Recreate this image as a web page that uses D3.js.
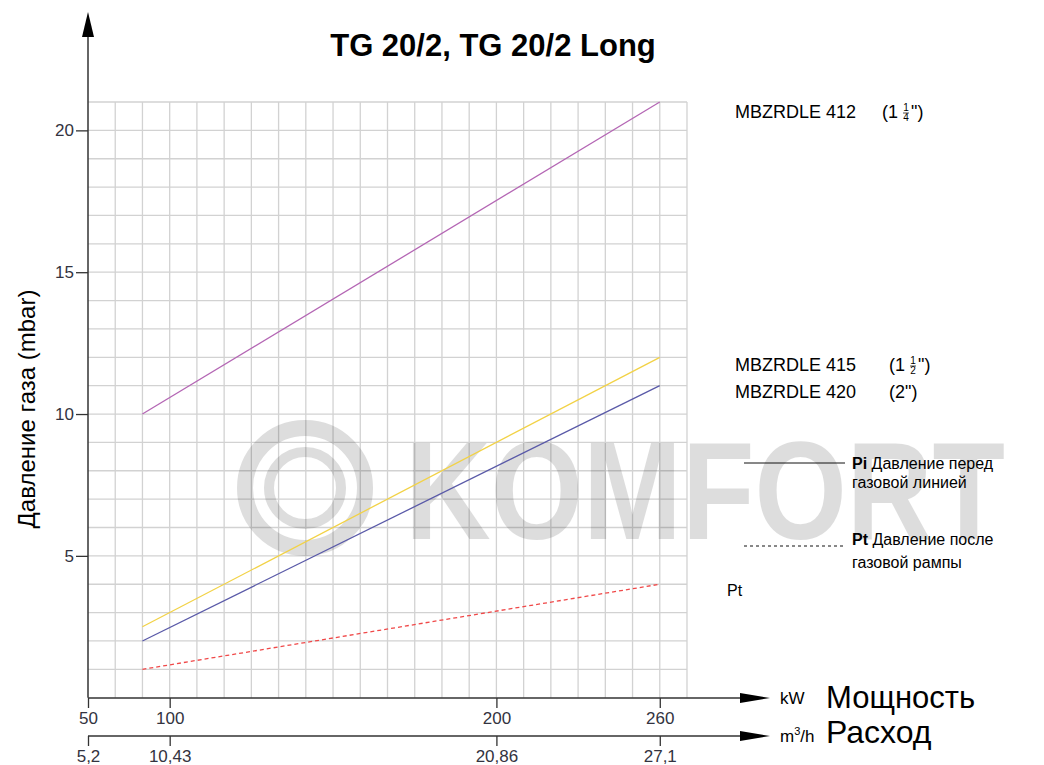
<!DOCTYPE html>
<html>
  <head>
    <meta http-equiv="content-type" content="text/html; charset=utf-8" />
    <title>TG 20/2</title>
    <script type="text/javascript" src="https://cdn.jsdelivr.net/npm/d3@7/dist/d3.min.js"></script>
    <style type="text/css">
      body { margin: 0; background: #fff; }
      text { font-family: "Liberation Sans", Arial, sans-serif; }
    </style>
  </head>
  <body>
    <script type="text/javascript">
// values
var powerKW = [83.3, 260];
var mbzrdle412 = [10, 21];
var mbzrdle415 = [2.5, 12];
var mbzrdle420 = [2, 11];
var ptLine = [1, 4];

var kwTicks = [50, 100, 200, 260];
var flowLabels = ["5,2", "10,43", "20,86", "27,1"];
var pressureTicks = [5, 10, 15, 20];

var w = 1044, h = 765;
var svg = d3.select("body").append("svg").attr("width", w).attr("height", h);

// grid columns (22) and the non linear kW axis laid over them
var gridLeft = 88, gridRight = 687, gridCols = 22;
var colScale = d3.scaleLinear().domain([0, gridCols]).range([gridLeft, gridRight]);
var kwToCol = d3.scaleLinear().domain(kwTicks).range([0, 3, 15, 21]);
var x = function(d) { return colScale(kwToCol(d)); };
var y = d3.scaleLinear().domain([0, 21]).range([697.7, 102]);

// grid
var grid = svg.append("g").attr("stroke", "#d2d2d2").attr("stroke-width", 1.3);
grid.selectAll("line.v").data(d3.range(1, gridCols + 1)).enter().append("line")
  .attr("x1", function(d) { return colScale(d); })
  .attr("x2", function(d) { return colScale(d); })
  .attr("y1", y(0)).attr("y2", y(21));
grid.selectAll("line.h").data(d3.range(1, 22)).enter().append("line")
  .attr("x1", gridLeft).attr("x2", gridRight)
  .attr("y1", function(d) { return y(d); })
  .attr("y2", function(d) { return y(d); });

// watermark
var wm = svg.append("g").attr("opacity", 0.13);
wm.append("circle").attr("cx", 305).attr("cy", 488).attr("r", 60)
  .attr("fill", "none").attr("stroke", "#000").attr("stroke-width", 16);
wm.append("circle").attr("cx", 305).attr("cy", 488).attr("r", 36)
  .attr("fill", "none").attr("stroke", "#000").attr("stroke-width", 10);
wm.append("text").attr("x", 405).attr("y", 539)
  .attr("font-size", 140).attr("font-weight", "bold")
  .attr("textLength", 600).attr("lengthAdjust", "spacingAndGlyphs")
  .attr("fill", "#000").text("KOMFORT");

// series
var series = [
  { vals: mbzrdle412, color: "#b466b4", dash: null },
  { vals: mbzrdle415, color: "#f2d246", dash: null },
  { vals: mbzrdle420, color: "#5a5aa8", dash: null },
  { vals: ptLine, color: "#f04848", dash: "4,3" }
];
var line = d3.line()
  .x(function(d) { return x(d[0]); })
  .y(function(d) { return y(d[1]); });
svg.selectAll("path.series").data(series).enter().append("path")
  .attr("class", "series")
  .attr("fill", "none")
  .attr("stroke", function(d) { return d.color; })
  .attr("stroke-width", 1.3)
  .attr("stroke-dasharray", function(d) { return d.dash; })
  .attr("d", function(d) { return line(d3.zip(powerKW, d.vals)); });

// y axis
var yAxis = d3.axisLeft(y).tickValues(pressureTicks).tickSize(12).tickPadding(2);
var gy = svg.append("g").attr("transform", "translate(" + gridLeft + ",0)").call(yAxis);
gy.select(".domain").remove();
gy.selectAll(".tick line").attr("stroke", "#333").attr("stroke-width", 1.3);
gy.selectAll(".tick text").attr("font-size", 17).attr("fill", "#333340")
  .attr("font-family", "Liberation Sans, Arial, sans-serif");
svg.append("line").attr("x1", gridLeft).attr("x2", gridLeft)
  .attr("y1", y(0)).attr("y2", 30).attr("stroke", "#333").attr("stroke-width", 1.5);
svg.append("path").attr("d", "M88,12 L82,37 L94,37 Z").attr("fill", "#000");

// x axes
function bottomAxis(yPos, labels) {
  var ax = d3.axisBottom(d3.scaleLinear().domain(kwTicks).range(kwTicks.map(x)))
    .tickValues(kwTicks).tickSize(10).tickPadding(4)
    .tickFormat(function(d, i) { return labels[i]; });
  var g = svg.append("g").attr("transform", "translate(0," + yPos + ")");
  g.call(ax);
  g.select(".domain").remove();
  g.selectAll(".tick line").attr("stroke", "#333").attr("stroke-width", 1.3);
  g.selectAll(".tick text").attr("font-size", 17).attr("fill", "#333340")
    .attr("font-family", "Liberation Sans, Arial, sans-serif");
  g.append("line").attr("x1", gridLeft).attr("x2", 745).attr("y1", 0).attr("y2", 0)
    .attr("stroke", "#333").attr("stroke-width", 1.5);
  g.append("path").attr("d", "M770,0 L740,-5 L740,5 Z").attr("fill", "#000");
}
bottomAxis(698, kwTicks.map(String));
bottomAxis(736, flowLabels);

// axis titles
svg.append("text").attr("x", 780).attr("y", 704).attr("font-size", 17).text("kW");
svg.append("text").attr("x", 826).attr("y", 708).attr("font-size", 31).text("Мощность");
var mt = svg.append("text").attr("x", 780).attr("y", 742).attr("font-size", 17);
mt.append("tspan").text("m");
mt.append("tspan").attr("font-size", 11).attr("dy", -7).text("3");
mt.append("tspan").attr("dy", 7).text("/h");
svg.append("text").attr("x", 826).attr("y", 743).attr("font-size", 32).text("Расход");

svg.append("text").attr("transform", "translate(35,409) rotate(-90)")
  .attr("text-anchor", "middle").attr("font-size", 24).text("Давление газа (mbar)");

svg.append("text").attr("x", 493).attr("y", 56).attr("text-anchor", "middle")
  .attr("font-size", 31).attr("font-weight", "bold").text("TG 20/2, TG 20/2 Long");

// series labels
function frac(xp, yp, num, den) {
  svg.append("text").attr("x", xp).attr("y", yp - 7).attr("font-size", 10)
    .attr("text-anchor", "middle").text(num);
  svg.append("text").attr("x", xp).attr("y", yp + 3).attr("font-size", 10)
    .attr("text-anchor", "middle").text(den);
  svg.append("line").attr("x1", xp - 3).attr("x2", xp + 3)
    .attr("y1", yp - 5).attr("y2", yp - 5).attr("stroke", "#222").attr("stroke-width", 0.8);
}
svg.append("text").attr("x", 735).attr("y", 118).attr("font-size", 18).text("MBZRDLE 412");
svg.append("text").attr("x", 882).attr("y", 118).attr("font-size", 18).text("(1");
frac(906, 118, "1", "4");
svg.append("text").attr("x", 911).attr("y", 118).attr("font-size", 18).text("\")");

svg.append("text").attr("x", 735).attr("y", 371).attr("font-size", 18).text("MBZRDLE 415");
svg.append("text").attr("x", 889).attr("y", 371).attr("font-size", 18).text("(1");
frac(913, 371, "1", "2");
svg.append("text").attr("x", 918).attr("y", 371).attr("font-size", 18).text("\")");

svg.append("text").attr("x", 735).attr("y", 398).attr("font-size", 18).text("MBZRDLE 420");
svg.append("text").attr("x", 889).attr("y", 398).attr("font-size", 18).text("(2\")");

// legend
svg.append("line").attr("x1", 744).attr("x2", 845).attr("y1", 463).attr("y2", 463)
  .attr("stroke", "#111").attr("stroke-width", 1);
var t1 = svg.append("text").attr("x", 852).attr("y", 469).attr("font-size", 16);
t1.append("tspan").attr("font-weight", "bold").text("Pi");
t1.append("tspan").text(" Давление перед");
svg.append("text").attr("x", 852).attr("y", 488).attr("font-size", 16).text("газовой линией");

svg.append("line").attr("x1", 744).attr("x2", 845).attr("y1", 546).attr("y2", 546)
  .attr("stroke", "#111").attr("stroke-width", 1).attr("stroke-dasharray", "3,3");
var t2 = svg.append("text").attr("x", 852).attr("y", 545).attr("font-size", 16);
t2.append("tspan").attr("font-weight", "bold").text("Pt");
t2.append("tspan").text(" Давление после");
svg.append("text").attr("x", 852).attr("y", 568).attr("font-size", 16).text("газовой рампы");

svg.append("text").attr("x", 727).attr("y", 596).attr("font-size", 16).text("Pt");
    </script>
  </body>
</html>
